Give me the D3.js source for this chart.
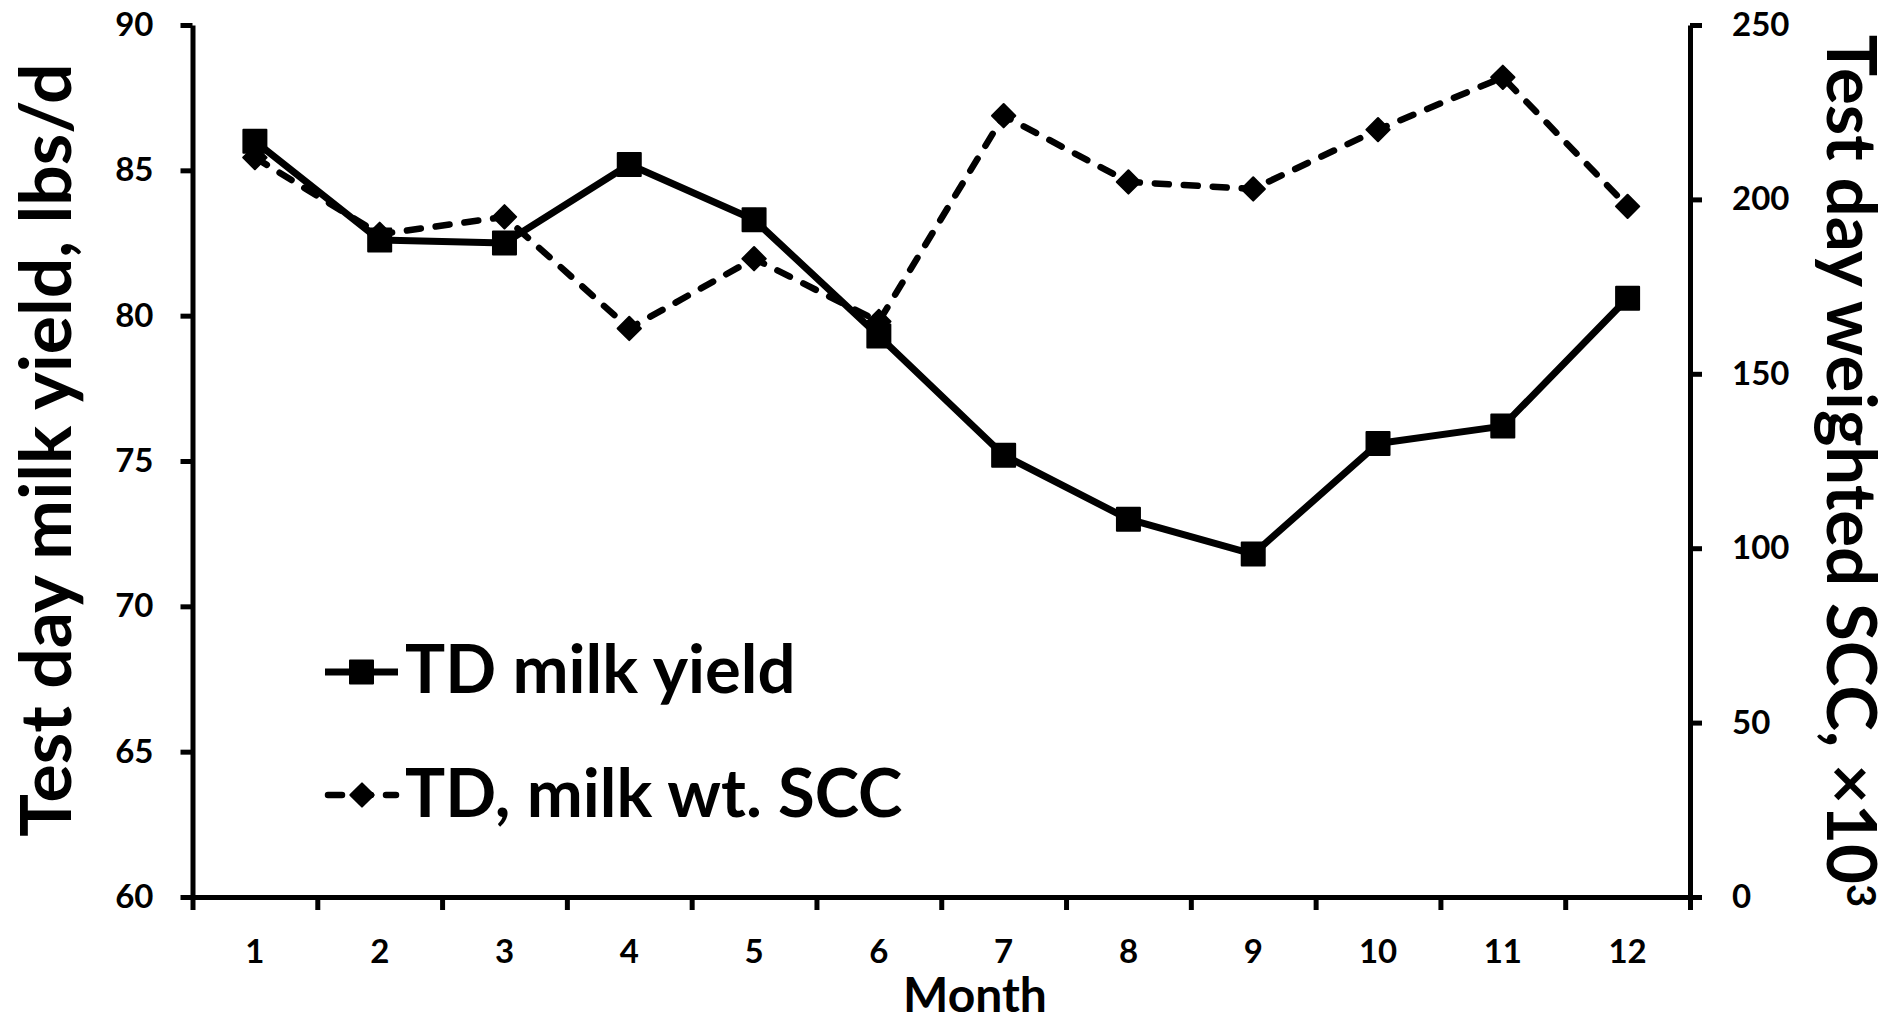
<!DOCTYPE html>
<html>
<head>
<meta charset="utf-8">
<script src="https://cdn.jsdelivr.net/npm/d3@7"></script>
<style>
  html, body { margin: 0; padding: 0; background: #fff; }
  svg { display: block; }
  text { font-family: Lato, "Open Sans", sans-serif; font-weight: 700; fill: #000; }
</style>
</head>
<body>
<script>
// ---------- data ----------
const months = [1, 2, 3, 4, 5, 6, 7, 8, 9, 10, 11, 12];
const milkYield = [86.0, 82.6, 82.5, 85.2, 83.3, 79.3, 75.2, 73.0, 71.8, 75.6, 76.2, 80.6];
const sccValues = [212, 190, 195, 163, 183, 165, 224, 205, 203, 220, 235, 198];
const leftTicks = [60, 65, 70, 75, 80, 85, 90];
const rightTicks = [0, 50, 100, 150, 200, 250];
const seriesNames = ["TD milk yield", "TD, milk wt. SCC"];
const leftTitle = "Test day milk yield, lbs/d";
const rightTitle = "Test day weighted SCC, \u00d710";
const rightTitleSup = "3";
const xTitle = "Month";

// ---------- layout ----------
const W = 1889, H = 1017;
const plotL = 192.5, plotR = 1690, plotT = 25, plotB = 897;

const svg = d3.select("body").append("svg").attr("width", W).attr("height", H);

const x = d3.scaleBand().domain(months).range([plotL, plotR]).padding(0);
const xb = d3.scaleLinear().domain([0, months.length]).range([plotL, plotR]);
const yL = d3.scaleLinear().domain([60, 90]).range([plotB, plotT]);
const yR = d3.scaleLinear().domain([0, 250]).range([plotB, plotT]);
const cx = m => x(m) + x.bandwidth() / 2;

function styleAxis(g, fs) {
  g.selectAll("path.domain").attr("stroke", "#000").attr("stroke-width", 5);
  g.selectAll(".tick line").attr("stroke", "#000").attr("stroke-width", 5);
  g.selectAll(".tick text").attr("font-size", fs).attr("font-family", "Lato, 'Open Sans', sans-serif").attr("font-weight", 700).attr("fill", "#000");
}

// left axis
const gL = svg.append("g").attr("transform", `translate(${plotL},0)`)
  .call(d3.axisLeft(yL).tickValues(leftTicks).tickSize(12).tickSizeOuter(0).tickPadding(27));
styleAxis(gL, 33);

// right axis
const gR = svg.append("g").attr("transform", `translate(${plotR},0)`)
  .call(d3.axisRight(yR).tickValues(rightTicks).tickSize(12).tickSizeOuter(0).tickPadding(30));
styleAxis(gR, 33);

// bottom axis: boundary ticks
const gB = svg.append("g").attr("transform", `translate(0,${plotB})`)
  .call(d3.axisBottom(xb).tickValues(d3.range(0, months.length + 1)).tickSize(13).tickSizeOuter(0).tickFormat(""));
styleAxis(gB, 33);

// bottom axis: category labels
const gBL = svg.append("g").attr("transform", `translate(0,${plotB})`)
  .call(d3.axisBottom(x).tickSize(0).tickPadding(43));
gBL.select("path.domain").remove();
styleAxis(gBL, 33);

// ---------- series ----------
const lineGen = d3.line().x((d, i) => cx(months[i]));

svg.append("path")
  .attr("d", lineGen.y(d => yR(d))(sccValues))
  .attr("fill", "none").attr("stroke", "#000").attr("stroke-width", 6.5)
  .attr("stroke-dasharray", "14,15").attr("stroke-linecap", "round").attr("stroke-linejoin", "round");

const sq = d3.symbol().type(d3.symbolSquare).size(23 * 23);
const dm = d3.symbol().type(d3.symbolSquare).size(16.5 * 16.5);

svg.append("g").selectAll("path").data(sccValues).join("path")
  .attr("d", dm)
  .attr("transform", (d, i) => `translate(${cx(months[i])},${yR(d)}) rotate(45)`)
  .attr("fill", "#000").attr("stroke", "#000").attr("stroke-width", 2).attr("stroke-linejoin", "round");

svg.append("path")
  .attr("d", lineGen.y(d => yL(d))(milkYield))
  .attr("fill", "none").attr("stroke", "#000").attr("stroke-width", 7).attr("stroke-linejoin", "round");

svg.append("g").selectAll("path").data(milkYield).join("path")
  .attr("d", sq)
  .attr("transform", (d, i) => `translate(${cx(months[i])},${yL(d)})`)
  .attr("fill", "#000").attr("stroke", "#000").attr("stroke-width", 2).attr("stroke-linejoin", "round");

// ---------- titles ----------
svg.append("text")
  .attr("transform", "translate(71,450) rotate(-90)")
  .attr("text-anchor", "middle").attr("font-size", 71.5).text(leftTitle);

const rt = svg.append("text")
  .attr("transform", "translate(1827,471) rotate(90)")
  .attr("text-anchor", "middle").attr("font-size", 69);
rt.append("tspan").text(rightTitle);
rt.append("tspan").attr("font-size", 40).attr("dy", -20).text(rightTitleSup);

svg.append("text")
  .attr("x", 975).attr("y", 1012).attr("text-anchor", "middle").attr("font-size", 48).text(xTitle);

// ---------- legend ----------
const lg = svg.append("g");
const legY = [672, 795];
const legBase = [693, 817];
// row 1
lg.append("line").attr("x1", 325).attr("x2", 398).attr("y1", legY[0]).attr("y2", legY[0])
  .attr("stroke", "#000").attr("stroke-width", 7);
lg.append("path").attr("d", sq).attr("transform", `translate(361.5,${legY[0]})`)
  .attr("fill", "#000").attr("stroke", "#000").attr("stroke-width", 2).attr("stroke-linejoin", "round");
lg.append("text").attr("x", 405).attr("y", legBase[0]).attr("font-size", 67).text(seriesNames[0]);
// row 2
lg.append("line").attr("x1", 328).attr("x2", 396).attr("y1", legY[1]).attr("y2", legY[1])
  .attr("stroke", "#000").attr("stroke-width", 6.5).attr("stroke-dasharray", "14,15").attr("stroke-linecap", "round");
lg.append("path").attr("d", dm).attr("transform", `translate(362,${legY[1]}) rotate(45)`)
  .attr("fill", "#000").attr("stroke", "#000").attr("stroke-width", 2).attr("stroke-linejoin", "round");
lg.append("text").attr("x", 405).attr("y", legBase[1]).attr("font-size", 67).text(seriesNames[1]);
</script>
</body>
</html>
